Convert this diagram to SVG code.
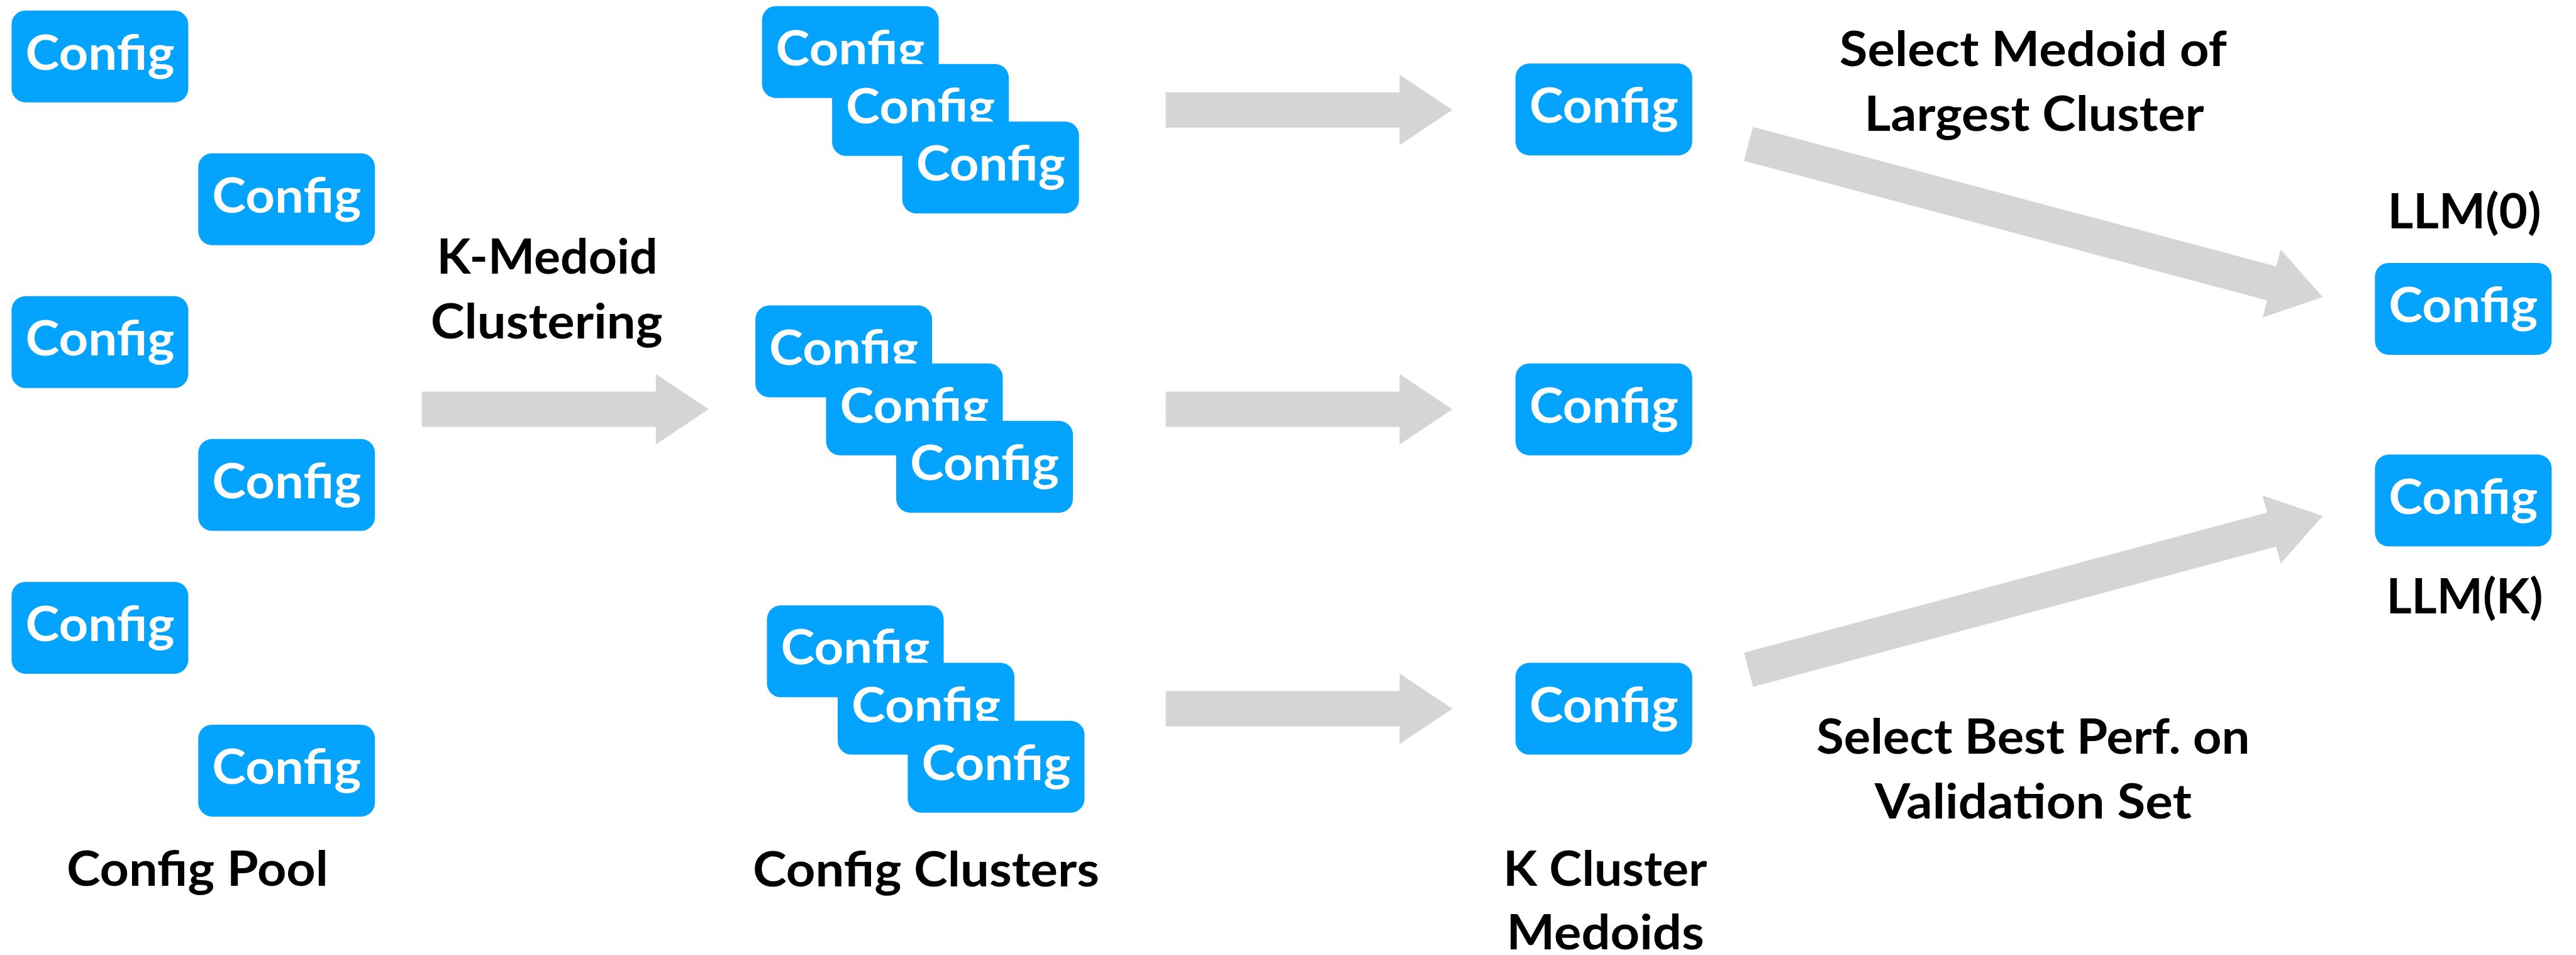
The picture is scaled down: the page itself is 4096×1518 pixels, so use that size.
<svg xmlns="http://www.w3.org/2000/svg" xmlns:xlink="http://www.w3.org/1999/xlink" width="4096" height="1518" viewBox="0 0 4096 1518">
  <style>
    .box { fill: #03a3fe; }
    .cfg { font-family: Lato, "Open Sans", "Liberation Sans", sans-serif; font-weight: 700; font-size: 77px; fill: #ffffff; text-anchor: middle; }
    .lbl { font-family: Lato, "Open Sans", "Liberation Sans", sans-serif; font-weight: 700; font-size: 77px; fill: #000000; text-anchor: middle; }
    .arrow { fill: #d5d5d5; }
  </style>
  <defs>
    <!-- block arrows pointing along +x, tail centre at the origin -->
    <path id="arrow-short" d="M0,-28 H372 V-56 L456,0 L372,56 V28 H0 Z"/>
    <path id="arrow-long" d="M0,-28 H861 V-56 L945,0 L861,56 V28 H0 Z"/>
    <!-- one "Config" card: 281 x 146 -->
    <g id="card">
      <rect class="box" x="0" y="0" width="281" height="146" rx="22" ry="22"/>
      <text class="cfg" x="140.5" y="94" textLength="237" lengthAdjust="spacingAndGlyphs">Config</text>
    </g>
  </defs>

  <!-- connectors -->
  <g id="connectors" class="arrow">
    <use xlink:href="#arrow-short" href="#arrow-short" transform="translate(670.8,650.6)"/>
    <use xlink:href="#arrow-short" href="#arrow-short" transform="translate(1853.5,174.7)"/>
    <use xlink:href="#arrow-short" href="#arrow-short" transform="translate(1853.5,650.6)"/>
    <use xlink:href="#arrow-short" href="#arrow-short" transform="translate(1853.5,1126.5)"/>
    <use xlink:href="#arrow-long" href="#arrow-long" transform="translate(2780.2,228.7) rotate(14.93)"/>
    <use xlink:href="#arrow-long" href="#arrow-long" transform="translate(2780.4,1064.6) rotate(-15)"/>
  </g>

  <!-- config pool -->
  <g id="pool-1"><use xlink:href="#card" href="#card" x="18.4" y="16.7"/></g>
  <g id="pool-2"><use xlink:href="#card" href="#card" x="315.2" y="243.7"/></g>
  <g id="pool-3"><use xlink:href="#card" href="#card" x="18.4" y="470.8"/></g>
  <g id="pool-4"><use xlink:href="#card" href="#card" x="315.2" y="697.8"/></g>
  <g id="pool-5"><use xlink:href="#card" href="#card" x="18.4" y="924.9"/></g>
  <g id="pool-6"><use xlink:href="#card" href="#card" x="315.2" y="1151.9"/></g>
  <g id="label-pool"><text class="lbl" x="313.9" y="1408.3" textLength="416" lengthAdjust="spacingAndGlyphs">Config Pool</text></g>

  <!-- clustering step -->
  <g id="label-kmedoid">
    <text class="lbl" x="870.1" y="435.2" textLength="351" lengthAdjust="spacingAndGlyphs">K-Medoid</text>
    <text class="lbl" x="869.2" y="538" textLength="369" lengthAdjust="spacingAndGlyphs">Clustering</text>
  </g>

  <!-- config clusters: three overlapping cards each -->
  <g id="cluster-1">
    <use xlink:href="#card" href="#card" x="1211.6" y="9.7"/>
    <use xlink:href="#card" href="#card" x="1323.1" y="101.8"/>
    <use xlink:href="#card" href="#card" x="1434.7" y="193.2"/>
  </g>
  <g id="cluster-2">
    <use xlink:href="#card" href="#card" x="1201.1" y="485.5"/>
    <use xlink:href="#card" href="#card" x="1313.5" y="577.7"/>
    <use xlink:href="#card" href="#card" x="1425" y="669"/>
  </g>
  <g id="cluster-3">
    <use xlink:href="#card" href="#card" x="1219.5" y="962.3"/>
    <use xlink:href="#card" href="#card" x="1331.9" y="1053.6"/>
    <use xlink:href="#card" href="#card" x="1443.4" y="1145.8"/>
  </g>
  <g id="label-clusters"><text class="lbl" x="1472.4" y="1409.2" textLength="551" lengthAdjust="spacingAndGlyphs">Config Clusters</text></g>

  <!-- cluster medoids -->
  <g id="medoid-1"><use xlink:href="#card" href="#card" x="2409.7" y="101"/></g>
  <g id="medoid-2"><use xlink:href="#card" href="#card" x="2409.7" y="577.7"/></g>
  <g id="medoid-3"><use xlink:href="#card" href="#card" x="2409.7" y="1053.6"/></g>
  <g id="label-medoids">
    <text class="lbl" x="2552.3" y="1407.5" textLength="324" lengthAdjust="spacingAndGlyphs">K Cluster</text>
    <text class="lbl" x="2552.6" y="1509" textLength="314" lengthAdjust="spacingAndGlyphs">Medoids</text>
  </g>

  <!-- selection rules -->
  <g id="label-largest">
    <text class="lbl" x="3232.8" y="104.5" textLength="616" lengthAdjust="spacingAndGlyphs">Select Medoid of</text>
    <text class="lbl" x="3234.6" y="207.8" textLength="540" lengthAdjust="spacingAndGlyphs">Largest Cluster</text>
  </g>
  <g id="label-best">
    <text class="lbl" x="3232.8" y="1198.2" textLength="689" lengthAdjust="spacingAndGlyphs">Select Best Perf. on</text>
    <text class="lbl" x="3232.8" y="1301.2" textLength="504" lengthAdjust="spacingAndGlyphs">Validation Set</text>
  </g>

  <!-- selected LLM configs -->
  <g id="llm-0">
    <text class="lbl" x="3918.5" y="363.3" textLength="244" lengthAdjust="spacingAndGlyphs">LLM(0)</text>
    <use xlink:href="#card" href="#card" x="3776.3" y="417.9"/>
  </g>
  <g id="llm-k">
    <use xlink:href="#card" href="#card" x="3776.3" y="722.6"/>
    <text class="lbl" x="3918.9" y="974.6" textLength="249" lengthAdjust="spacingAndGlyphs">LLM(K)</text>
  </g>
</svg>
